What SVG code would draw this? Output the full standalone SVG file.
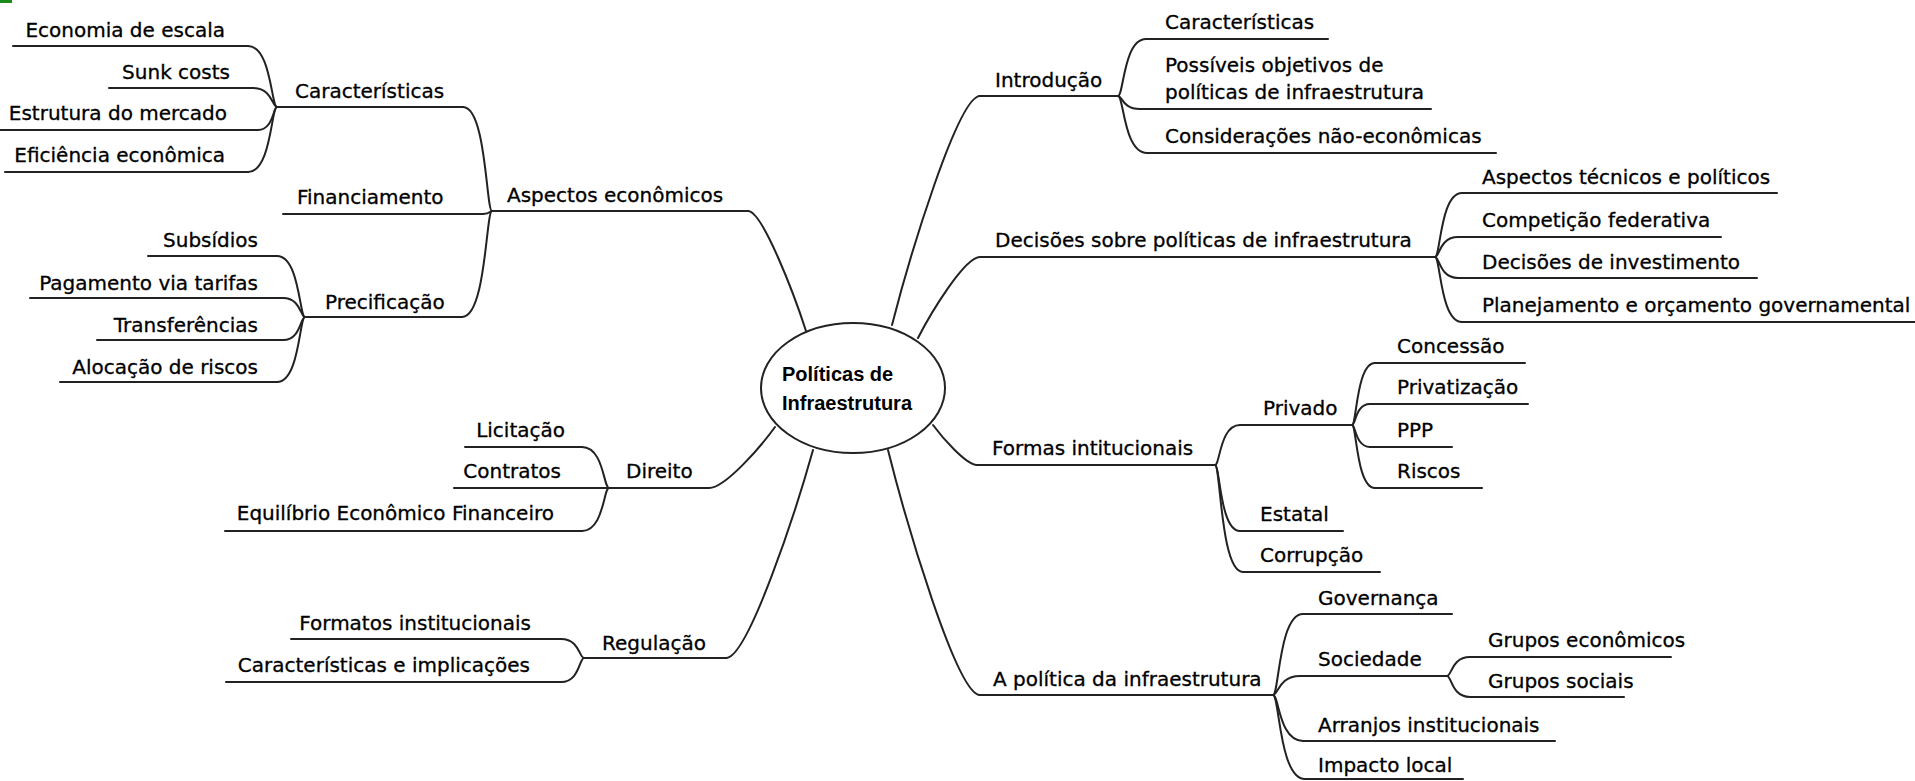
<svg xmlns="http://www.w3.org/2000/svg" width="1915" height="781" viewBox="0 0 1915 781">
<style>
.t{font-family:"DejaVu Sans",Verdana,sans-serif;font-size:20px;fill:#000;stroke:#000;stroke-width:0.3}
.e{text-anchor:end}
.u,.c{stroke:#222;stroke-width:2;fill:none;stroke-linecap:round}
.ctr{font-family:"Liberation Sans",Arial,sans-serif;font-size:20px;font-weight:bold;fill:#000}
</style>
<rect x="0" y="0" width="12" height="3" fill="#1a8a1a"/>
<g id="connectors">
<path class="c" d="M806,331 C794.4,295 762.5,211 748,211"/>
<path class="c" d="M892,325 C909.6,256.3 958,96 980,96"/>
<path class="c" d="M918,338 C930.4,313.7 964.5,257 980,257"/>
<path class="c" d="M933,425 C941.8,437 966,465 977,465"/>
<path class="c" d="M775,427 C761.8,445.3 725.5,488 709,488"/>
<path class="c" d="M813,450 C795.6,512.4 747.75,658 726,658"/>
<path class="c" d="M888,450 C906.4,523.5 957,695 980,695"/>
<path class="c" d="M277,107 C271.2,107 271.2,46 248,46"/>
<path class="c" d="M277,107 C272.2,107 272.2,88 253,88"/>
<path class="c" d="M277,107 C273.2,107 273.2,130 258,130"/>
<path class="c" d="M277,107 C271.2,107 271.2,172 248,172"/>
<path class="c" d="M305,317 C299.4,317 299.4,256 277,256"/>
<path class="c" d="M305,317 C300.6,317 300.6,298 283,298"/>
<path class="c" d="M305,317 C300.6,317 300.6,340 283,340"/>
<path class="c" d="M305,317 C299.4,317 299.4,382 277,382"/>
<path class="c" d="M492,211 C486.2,211 486.2,107 463,107"/>
<path class="c" d="M492,211 C490.2,211 490.2,214 483,214"/>
<path class="c" d="M492,211 C486,211 486,317 462,317"/>
<path class="c" d="M609,488 C603.6,488 603.6,447 582,447"/>
<path class="c" d="M609,488 C603.6,488 603.6,531 582,531"/>
<path class="c" d="M584,658 C579.4,658 579.4,639 561,639"/>
<path class="c" d="M584,658 C579.4,658 579.4,682 561,682"/>
<path class="c" d="M1118,96 C1123.6,96 1123.6,39 1146,39"/>
<path class="c" d="M1118,96 C1122.4,96 1122.4,109 1140,109"/>
<path class="c" d="M1118,96 C1123.8,96 1123.8,153 1147,153"/>
<path class="c" d="M1435,257 C1440.4,257 1440.4,193 1462,193"/>
<path class="c" d="M1435,257 C1439.6,257 1439.6,237 1458,237"/>
<path class="c" d="M1435,257 C1439.6,257 1439.6,278 1458,278"/>
<path class="c" d="M1435,257 C1440.4,257 1440.4,322 1462,322"/>
<path class="c" d="M1215,465 C1220,465 1220,425 1240,425"/>
<path class="c" d="M1215,465 C1220,465 1220,531 1240,531"/>
<path class="c" d="M1215,465 C1220.6,465 1220.6,572 1243,572"/>
<path class="c" d="M1352,425 C1356.6,425 1356.6,363 1375,363"/>
<path class="c" d="M1352,425 C1355.6,425 1355.6,404 1370,404"/>
<path class="c" d="M1352,425 C1355.6,425 1355.6,447 1370,447"/>
<path class="c" d="M1352,425 C1356.6,425 1356.6,488 1375,488"/>
<path class="c" d="M1273,695 C1279,695 1279,614 1303,614"/>
<path class="c" d="M1273,695 C1278.4,695 1278.4,676 1300,676"/>
<path class="c" d="M1273,695 C1279,695 1279,741 1303,741"/>
<path class="c" d="M1273,695 C1279.4,695 1279.4,779 1305,779"/>
<path class="c" d="M1447,676 C1451.6,676 1451.6,657 1470,657"/>
<path class="c" d="M1447,676 C1451.6,676 1451.6,697 1470,697"/>
</g>
<g id="center">
<ellipse cx="853" cy="388" rx="92" ry="65" fill="#fff" stroke="#222" stroke-width="2"/>
<text class="ctr" x="782" y="381">Políticas de</text>
<text class="ctr" x="782" y="410">Infraestrutura</text>
</g>
<g id="aspectos"><line class="u" x1="492" y1="211" x2="748" y2="211"/><text class="t" x="507" y="202">Aspectos econômicos</text></g>
<g id="caracteristicas-l"><line class="u" x1="277" y1="107" x2="463" y2="107"/><text class="t" x="295" y="98">Características</text></g>
<g id="economia"><line class="u" x1="13" y1="46" x2="248" y2="46"/><text class="t e" x="225" y="37">Economia de escala</text></g>
<g id="sunk"><line class="u" x1="109" y1="88" x2="253" y2="88"/><text class="t e" x="230" y="79">Sunk costs</text></g>
<g id="estrutura"><line class="u" x1="0" y1="130" x2="258" y2="130"/><text class="t e" x="227" y="120">Estrutura do mercado</text></g>
<g id="eficiencia"><line class="u" x1="5" y1="172" x2="248" y2="172"/><text class="t e" x="225" y="162">Eficiência econômica</text></g>
<g id="financiamento"><line class="u" x1="283" y1="214" x2="483" y2="214"/><text class="t" x="297" y="204">Financiamento</text></g>
<g id="precificacao"><line class="u" x1="305" y1="317" x2="462" y2="317"/><text class="t" x="325" y="309">Precificação</text></g>
<g id="subsidios"><line class="u" x1="148" y1="256" x2="277" y2="256"/><text class="t e" x="258" y="247">Subsídios</text></g>
<g id="pagamento"><line class="u" x1="30" y1="298" x2="283" y2="298"/><text class="t e" x="258" y="290">Pagamento via tarifas</text></g>
<g id="transferencias"><line class="u" x1="97" y1="340" x2="283" y2="340"/><text class="t e" x="258" y="332">Transferências</text></g>
<g id="alocacao"><line class="u" x1="60" y1="382" x2="277" y2="382"/><text class="t e" x="258" y="374">Alocação de riscos</text></g>
<g id="direito"><line class="u" x1="609" y1="488" x2="709" y2="488"/><text class="t" x="626" y="478">Direito</text></g>
<g id="licitacao"><line class="u" x1="465" y1="447" x2="582" y2="447"/><text class="t e" x="565" y="437">Licitação</text></g>
<g id="contratos"><line class="u" x1="454" y1="488" x2="609" y2="488"/><text class="t e" x="561" y="478">Contratos</text></g>
<g id="equilibrio"><line class="u" x1="225" y1="531" x2="582" y2="531"/><text class="t e" x="554" y="520">Equilíbrio Econômico Financeiro</text></g>
<g id="regulacao"><line class="u" x1="584" y1="658" x2="726" y2="658"/><text class="t" x="602" y="650">Regulação</text></g>
<g id="formatos"><line class="u" x1="291" y1="639" x2="561" y2="639"/><text class="t e" x="531" y="630">Formatos institucionais</text></g>
<g id="caract-impl"><line class="u" x1="226" y1="682" x2="561" y2="682"/><text class="t e" x="530" y="672">Características e implicações</text></g>
<g id="introducao"><line class="u" x1="980" y1="96" x2="1118" y2="96"/><text class="t" x="995" y="87">Introdução</text></g>
<g id="caracteristicas-r"><line class="u" x1="1146" y1="39" x2="1328" y2="39"/><text class="t" x="1165" y="29">Características</text></g>
<g id="possiveis"><line class="u" x1="1140" y1="109" x2="1431" y2="109"/><text class="t" x="1165" y="72">Possíveis objetivos de</text><text class="t" x="1165" y="99">políticas de infraestrutura</text></g>
<g id="consideracoes"><line class="u" x1="1147" y1="153" x2="1496" y2="153"/><text class="t" x="1165" y="143">Considerações não-econômicas</text></g>
<g id="decisoes"><line class="u" x1="980" y1="257" x2="1435" y2="257"/><text class="t" x="995" y="247">Decisões sobre políticas de infraestrutura</text></g>
<g id="aspectos-tec"><line class="u" x1="1462" y1="193" x2="1777" y2="193"/><text class="t" x="1482" y="184">Aspectos técnicos e políticos</text></g>
<g id="competicao"><line class="u" x1="1458" y1="237" x2="1721" y2="237"/><text class="t" x="1482" y="227">Competição federativa</text></g>
<g id="decisoes-inv"><line class="u" x1="1458" y1="278" x2="1757" y2="278"/><text class="t" x="1482" y="269">Decisões de investimento</text></g>
<g id="planejamento"><line class="u" x1="1462" y1="322" x2="1915" y2="322"/><text class="t" x="1482" y="312">Planejamento e orçamento governamental</text></g>
<g id="formas"><line class="u" x1="977" y1="465" x2="1215" y2="465"/><text class="t" x="992" y="455">Formas intitucionais</text></g>
<g id="privado"><line class="u" x1="1240" y1="425" x2="1352" y2="425"/><text class="t" x="1263" y="415">Privado</text></g>
<g id="concessao"><line class="u" x1="1375" y1="363" x2="1525" y2="363"/><text class="t" x="1397" y="353">Concessão</text></g>
<g id="privatizacao"><line class="u" x1="1370" y1="404" x2="1528" y2="404"/><text class="t" x="1397" y="394">Privatização</text></g>
<g id="ppp"><line class="u" x1="1370" y1="447" x2="1452" y2="447"/><text class="t" x="1397" y="437">PPP</text></g>
<g id="riscos"><line class="u" x1="1375" y1="488" x2="1482" y2="488"/><text class="t" x="1397" y="478">Riscos</text></g>
<g id="estatal"><line class="u" x1="1240" y1="531" x2="1343" y2="531"/><text class="t" x="1260" y="521">Estatal</text></g>
<g id="corrupcao"><line class="u" x1="1243" y1="572" x2="1380" y2="572"/><text class="t" x="1260" y="562">Corrupção</text></g>
<g id="a-politica"><line class="u" x1="980" y1="695" x2="1273" y2="695"/><text class="t" x="993" y="686">A política da infraestrutura</text></g>
<g id="governanca"><line class="u" x1="1303" y1="614" x2="1452" y2="614"/><text class="t" x="1318" y="605">Governança</text></g>
<g id="sociedade"><line class="u" x1="1300" y1="676" x2="1447" y2="676"/><text class="t" x="1318" y="666">Sociedade</text></g>
<g id="grupos-ec"><line class="u" x1="1470" y1="657" x2="1671" y2="657"/><text class="t" x="1488" y="647">Grupos econômicos</text></g>
<g id="grupos-soc"><line class="u" x1="1470" y1="697" x2="1624" y2="697"/><text class="t" x="1488" y="688">Grupos sociais</text></g>
<g id="arranjos"><line class="u" x1="1303" y1="741" x2="1555" y2="741"/><text class="t" x="1318" y="732">Arranjos institucionais</text></g>
<g id="impacto"><line class="u" x1="1305" y1="779" x2="1463" y2="779"/><text class="t" x="1318" y="772">Impacto local</text></g>
</svg>
